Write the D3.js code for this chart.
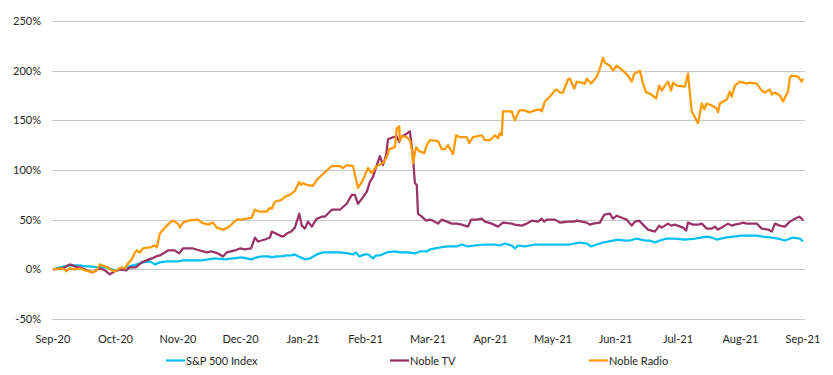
<!DOCTYPE html>
<html lang="en">
<head>
<meta charset="UTF-8">
<title>Noble TV / Noble Radio vs S&amp;P 500</title>
<script src="https://d3js.org/d3.v7.min.js"></script>
<style>
  body { margin: 0; background: #fff; }
  text { font-family: Lato, "Open Sans", sans-serif; fill: #262626; }
</style>
</head>
<body>
<svg width="833" height="375"></svg>
<script>
// month labels, one per month starting Sep-20 (x = months since start)
const months = ["Sep-20","Oct-20","Nov-20","Dec-20","Jan-21","Feb-21","Mar-21",
                "Apr-21","May-21","Jun-21","Jul-21","Aug-21","Sep-21"];
const yTicks = [-50, 0, 50, 100, 150, 200, 250];

// cumulative return (%), [months since Sep-20, value]
const sp500 = [[0,0],[0.11,2],[0.27,4],[0.43,4],[0.51,3],[0.59,3],[0.70,2],[0.78,2],[0.86,2],[0.94,0],[0.99,-1],[1.04,-1],
  [1.12,1],[1.23,3],[1.34,5],[1.44,7],[1.55,8],[1.63,5],[1.71,7],[1.82,8],[1.92,8],[2.00,8],[2.08,9],[2.22,9],[2.38,9],
  [2.48,10],[2.59,11],[2.75,10],[2.88,11],[3.02,12],[3.10,11],[3.17,10],[3.26,12],[3.34,13],[3.44,13],[3.50,12],[3.58,13],
  [3.66,13],[3.74,14],[3.82,14],[3.87,15],[3.92,13],[4.00,11],[4.03,10],[4.11,11],[4.22,15],[4.32,17],[4.43,17],[4.59,17],
  [4.72,16],[4.80,15],[4.85,17],[4.90,13],[4.99,15],[5.04,15],[5.12,11],[5.17,14],[5.23,14],[5.34,17],[5.47,18],[5.55,17],
  [5.68,17],[5.79,16],[5.87,18],[5.98,18],[6.03,20],[6.19,22],[6.32,23],[6.46,23],[6.54,25],[6.64,23],[6.75,24],[6.91,25],
  [7.07,25],[7.15,24],[7.23,26],[7.34,24],[7.39,21],[7.44,24],[7.55,23],[7.71,25],[7.84,25],[8.03,25],[8.11,25],[8.27,25],
  [8.43,27],[8.54,26],[8.61,23],[8.70,25],[8.80,27],[8.96,29],[9.04,30],[9.15,29],[9.23,29],[9.34,31],[9.47,29],[9.55,29],
  [9.63,27],[9.71,29],[9.82,31],[9.95,31],[10.11,30],[10.27,31],[10.46,33],[10.54,32],[10.62,30],[10.75,32],[10.88,33],
  [11.02,34],[11.26,34],[11.36,33],[11.50,32],[11.60,31],[11.71,29],[11.84,32],[11.95,31],[12.0,28]];

const nobleTV = [[0,0],[0.16,1],[0.27,5],[0.35,3],[0.43,2],[0.54,-1],[0.64,-3],[0.75,1],[0.83,-1],[0.91,-5],[0.99,-2],
  [1.07,0],[1.17,-1],[1.23,2],[1.33,2],[1.36,4],[1.42,7],[1.50,9],[1.58,11],[1.65,13],[1.71,14],[1.79,17],[1.84,19],
  [1.95,19],[2.02,16],[2.08,21],[2.24,21],[2.35,19],[2.46,17],[2.54,18],[2.64,16],[2.72,13],[2.78,17],[2.91,19],[2.99,21],
  [3.07,20],[3.17,21],[3.23,32],[3.28,28],[3.39,30],[3.47,32],[3.50,38],[3.63,34],[3.68,33],[3.74,36],[3.81,38],[3.87,42],
  [3.94,56],[3.98,44],[4.03,41],[4.08,48],[4.14,43],[4.22,51],[4.30,53],[4.35,53],[4.46,60],[4.59,60],[4.70,66],[4.78,75],
  [4.83,75],[4.88,66],[4.94,71],[5.02,78],[5.07,88],[5.12,93],[5.17,103],[5.23,114],[5.28,105],[5.33,115],[5.36,131],
  [5.44,133],[5.50,134],[5.54,128],[5.58,134],[5.65,136],[5.71,139],[5.76,113],[5.79,87],[5.82,85],[5.84,56],[5.90,53],
  [5.97,49],[6.03,50],[6.08,49],[6.16,46],[6.22,50],[6.30,48],[6.38,46],[6.46,46],[6.54,45],[6.64,43],[6.69,50],[6.78,50],
  [6.86,51],[6.91,48],[7.02,46],[7.12,43],[7.20,47],[7.34,46],[7.39,45],[7.50,44],[7.58,46],[7.66,49],[7.76,48],[7.82,51],
  [7.86,48],[7.90,50],[8.03,50],[8.06,49],[8.11,47],[8.24,48],[8.34,48],[8.38,49],[8.46,48],[8.54,47],[8.59,45],[8.64,46],
  [8.75,47],[8.82,55],[8.91,56],[8.96,51],[9.02,54],[9.10,52],[9.18,50],[9.26,44],[9.31,48],[9.38,49],[9.44,45],[9.52,40],
  [9.63,38],[9.70,44],[9.74,42],[9.84,46],[9.89,44],[9.95,45],[10.08,42],[10.13,39],[10.16,47],[10.24,45],[10.32,45],
  [10.38,46],[10.46,41],[10.54,41],[10.59,43],[10.64,40],[10.70,42],[10.80,46],[10.86,44],[10.91,45],[10.99,46],[11.04,47],
  [11.10,46],[11.26,46],[11.34,41],[11.44,40],[11.50,38],[11.55,46],[11.63,44],[11.71,43],[11.79,48],[11.87,51],[11.94,53],
  [11.98,51],[12.0,49]];

const nobleRadio = [[0,0],[0.11,1],[0.19,0],[0.21,-2],[0.27,1],[0.35,0],[0.43,1],[0.51,-1],[0.59,-2],[0.64,-3],[0.70,-1],
  [0.75,5],[0.83,3],[0.88,2],[0.94,-1],[0.99,-2],[1.04,0],[1.10,2],[1.15,1],[1.20,6],[1.26,10],[1.31,17],[1.34,19],[1.39,17],
  [1.44,21],[1.55,22],[1.63,24],[1.66,22],[1.71,36],[1.79,42],[1.87,47],[1.92,49],[2.00,46],[2.03,42],[2.08,47],[2.16,49],
  [2.32,50],[2.38,47],[2.48,45],[2.56,47],[2.62,42],[2.72,40],[2.80,42],[2.94,50],[3.02,50],[3.18,52],[3.23,60],[3.31,58],
  [3.42,58],[3.47,62],[3.50,61],[3.55,68],[3.66,70],[3.71,73],[3.79,75],[3.87,79],[3.94,88],[3.97,85],[4.00,87],[4.06,85],
  [4.16,84],[4.22,90],[4.32,96],[4.46,104],[4.59,104],[4.64,102],[4.70,105],[4.80,104],[4.88,82],[4.96,90],[5.04,102],
  [5.10,97],[5.18,104],[5.28,107],[5.34,113],[5.38,121],[5.47,123],[5.50,142],[5.54,144],[5.55,129],[5.58,134],[5.66,133],
  [5.71,130],[5.74,121],[5.76,107],[5.81,123],[5.86,119],[5.94,117],[5.98,125],[6.03,130],[6.16,129],[6.22,121],[6.27,121],
  [6.32,125],[6.40,116],[6.45,135],[6.51,133],[6.62,133],[6.66,127],[6.72,133],[6.86,135],[6.91,130],[6.99,130],[7.07,135],
  [7.12,132],[7.15,137],[7.18,135],[7.20,159],[7.34,159],[7.39,150],[7.46,160],[7.55,160],[7.62,158],[7.71,160],[7.79,161],
  [7.82,159],[7.87,169],[7.95,174],[8.03,180],[8.06,181],[8.11,178],[8.16,178],[8.24,191],[8.27,192],[8.34,182],[8.38,189],
  [8.51,187],[8.54,192],[8.61,187],[8.70,194],[8.75,202],[8.80,213],[8.83,208],[8.91,205],[8.96,200],[9.02,205],[9.10,201],
  [9.20,195],[9.26,189],[9.30,197],[9.39,200],[9.44,187],[9.49,178],[9.55,177],[9.65,172],[9.70,185],[9.74,180],[9.78,184],
  [9.84,189],[9.89,180],[9.92,188],[9.98,185],[10.11,184],[10.16,197],[10.22,159],[10.32,147],[10.38,167],[10.42,161],
  [10.46,167],[10.54,165],[10.62,162],[10.64,158],[10.67,167],[10.78,171],[10.83,179],[10.86,174],[10.91,185],[10.99,189],
  [11.10,187],[11.15,188],[11.26,187],[11.34,180],[11.39,178],[11.47,181],[11.50,176],[11.55,178],[11.63,175],[11.68,169],
  [11.76,179],[11.79,193],[11.82,195],[11.92,194],[11.98,189],[12.0,192]];

const seriesNames = ["S&P 500 Index", "Noble TV", "Noble Radio"];
const colors = ["#00bff3", "#993366", "#ff9900"];

const svg = d3.select("svg");

const x = d3.scaleLinear().domain([0, 12]).range([53, 803]);
const y = d3.scaleLinear().domain([-50, 250]).range([319, 21]);

// gridlines
svg.append("g")
  .selectAll("line")
  .data(yTicks)
  .join("line")
  .attr("x1", 52).attr("x2", 805)
  .attr("y1", d => Math.round(y(d)) + 0.5)
  .attr("y2", d => Math.round(y(d)) + 0.5)
  .attr("stroke", "#c8c8c8")
  .attr("stroke-width", 1);

// y labels
svg.append("g")
  .selectAll("text")
  .data(yTicks)
  .join("text")
  .attr("x", 41)
  .attr("y", d => y(d) + 4)
  .attr("text-anchor", "end")
  .attr("font-size", 11)
  .text(d => d + "%");

// x labels
svg.append("g")
  .selectAll("text")
  .data(months)
  .join("text")
  .attr("x", (d, i) => x(i))
  .attr("y", 343)
  .attr("text-anchor", "middle")
  .attr("font-size", 11)
  .text(d => d);

// lines
const line = d3.line().x(d => x(d[0])).y(d => y(d[1]));
[sp500, nobleTV, nobleRadio].forEach((s, i) => {
  svg.append("path")
    .datum(s)
    .attr("d", line)
    .attr("fill", "none")
    .attr("stroke", colors[i])
    .attr("stroke-width", 2.25)
    .attr("stroke-linejoin", "round");
});

// legend
const legendX = [166, 390, 589];
const legend = svg.append("g");
seriesNames.forEach((name, i) => {
  legend.append("line")
    .attr("x1", legendX[i]).attr("x2", legendX[i] + 19)
    .attr("y1", 360.5).attr("y2", 360.5)
    .attr("stroke", colors[i])
    .attr("stroke-width", 2.25);
  legend.append("text")
    .attr("x", legendX[i] + 20)
    .attr("y", 364.5)
    .attr("font-size", 11)
    .text(name);
});
</script>
</body>
</html>
